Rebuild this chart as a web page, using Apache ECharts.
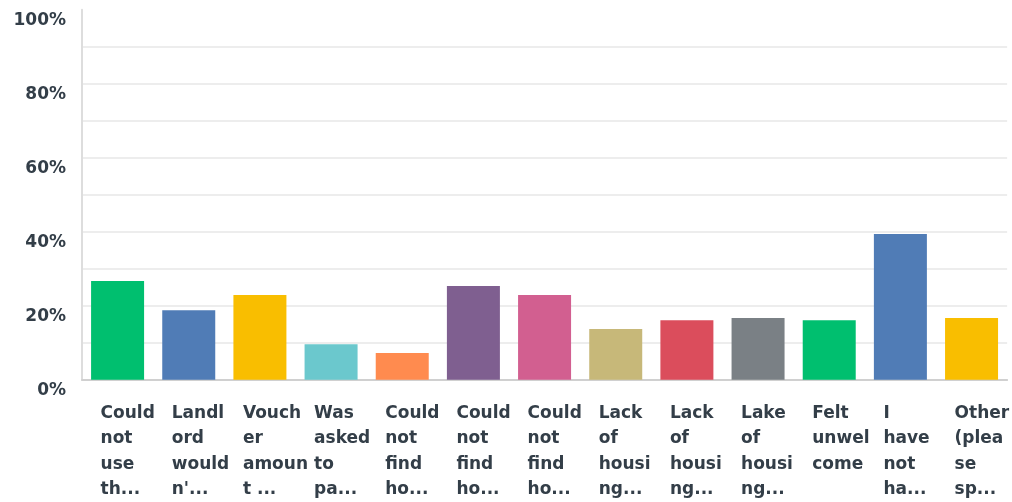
<!DOCTYPE html>
<html>
<head>
<meta charset="utf-8">
<script src="https://cdn.jsdelivr.net/npm/echarts@6/dist/echarts.min.js"></script>
<style>
html,body{margin:0;padding:0;background:#fff;}
#chart{width:1012px;height:502px;}
</style>
</head>
<body>
<div id="chart"></div>
<script>
const categories = [
  "Could\nnot\nuse\nth...",
  "Landl\nord\nwould\nn'...",
  "Vouch\ner\namoun\nt ...",
  "Was\nasked\nto\npa...",
  "Could\nnot\nfind\nho...",
  "Could\nnot\nfind\nho...",
  "Could\nnot\nfind\nho...",
  "Lack\nof\nhousi\nng...",
  "Lack\nof\nhousi\nng...",
  "Lake\nof\nhousi\nng...",
  "Felt\nunwel\ncome",
  "I\nhave\nnot\nha...",
  "Other\n(plea\nse\nsp..."
];
const values = [26.7, 18.8, 22.9, 9.6, 7.2, 25.3, 22.9, 13.7, 16.1, 16.7, 16.1, 39.4, 16.7];
const colors = ["#00bf6f", "#507cb6", "#f9be00", "#6bc8cd", "#ff8b4f", "#7f5f90", "#d25f90", "#c7b879", "#db4d5c", "#7a8085", "#00bf6f", "#507cb6", "#f9be00"];
const yTicks = [0, 20, 40, 60, 80, 100];

const chart = echarts.init(document.getElementById('chart'), null, {renderer: 'canvas'});
const textColor = '#333e48';
const font = '"DejaVu Sans"';
chart.setOption({
  animation: false,
  grid: {left: 82, right: 1, top: 9.7, bottom: 122.3, containLabel: false},
  xAxis: {
    type: 'category',
    data: categories,
    axisTick: {show: false},
    axisLine: {show: true, lineStyle: {color: '#d0d0d0', width: 2}},
    axisLabel: {
      interval: 0,
      margin: 21,
      verticalAlign: 'top',
      formatter: v => v.split('\n').map(s => '{a|' + s + '}').join('\n'),
      rich: {
        a: {width: 34, align: 'left', fontFamily: font, fontWeight: 'bold', fontSize: 17, color: textColor, lineHeight: 25.5}
      }
    }
  },
  yAxis: {
    type: 'value',
    min: 0, max: 100, interval: 10,
    axisLine: {show: true, lineStyle: {color: '#dddddd', width: 2}},
    axisTick: {show: false},
    splitLine: {show: true, showMaxLine: false, lineStyle: {color: '#ededed', width: 2}},
    axisLabel: {
      margin: 16,
      verticalAlign: 'top',
      lineHeight: 21,
      fontFamily: font, fontWeight: 'bold', fontSize: 17, color: textColor,
      formatter: v => yTicks.indexOf(v) >= 0 ? v + '%' : ''
    }
  },
  series: [{
    type: 'bar',
    data: values.map((v, i) => ({value: v, itemStyle: {color: colors[i]}})),
    barWidth: 53
  }]
});
</script>
</body>
</html>
